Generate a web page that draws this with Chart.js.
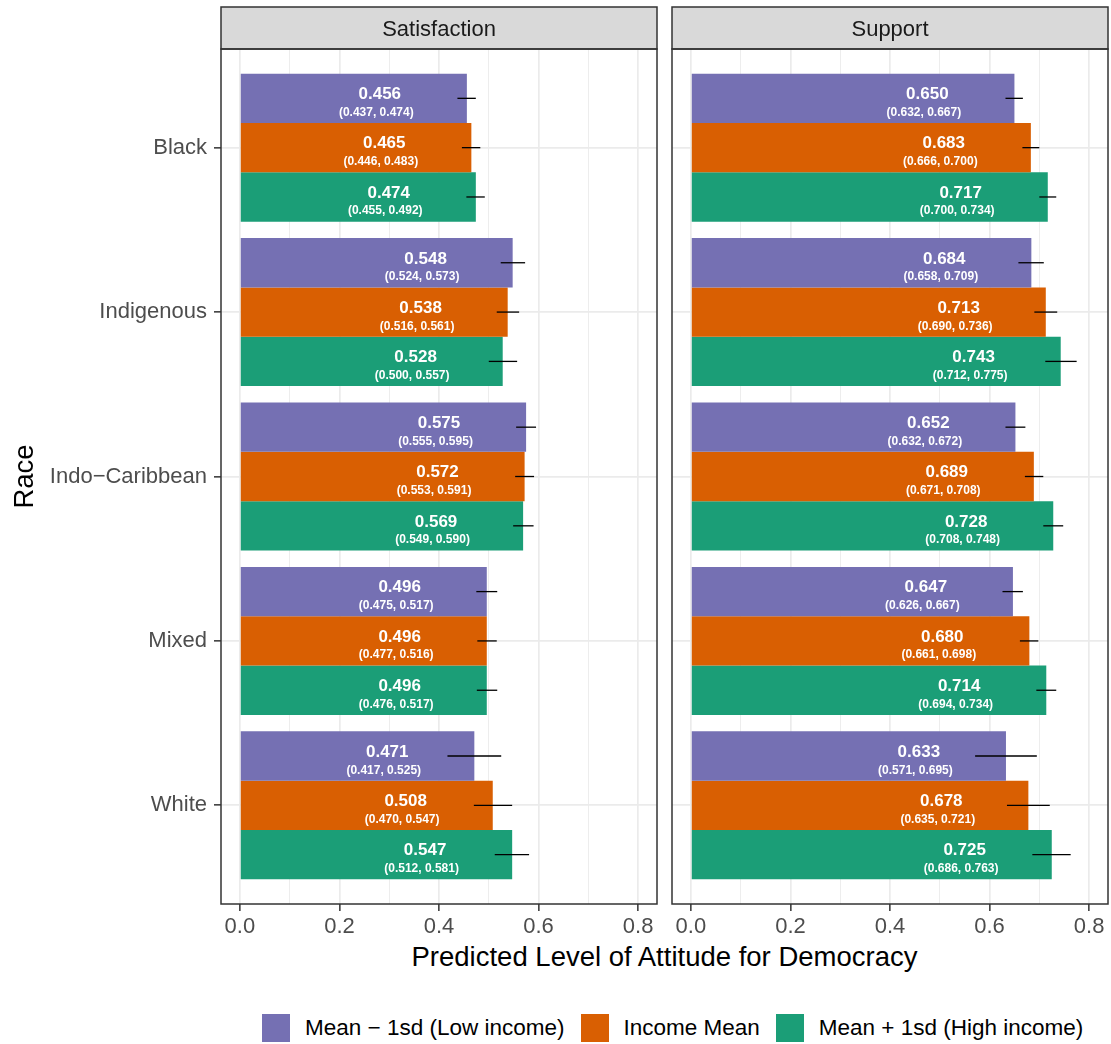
<!DOCTYPE html>
<html>
<head>
<meta charset="utf-8">
<title>Predicted Level of Attitude for Democracy</title>
<script src="https://cdn.jsdelivr.net/npm/chart.js@4.4.1/dist/chart.umd.min.js"></script>
<style>
  html, body { margin: 0; padding: 0; background: #ffffff; }
  #wrap { position: relative; width: 1111px; height: 1044px; overflow: hidden;
          font-family: "Liberation Sans", Arial, Helvetica, sans-serif; }
  #satCanvas { position: absolute; left: 0; top: 0; }
  #supCanvas { position: absolute; left: 664px; top: 0; }
  #xtitle { position: absolute; left: 221px; width: 887px; top: 943px; text-align: center;
            font-size: 27.5px; line-height: 1; color: #000000; white-space: nowrap; }
  #legend { position: absolute; left: 262px; top: 1014px; height: 28px; display: flex; align-items: center; }
  #legend .key { width: 28px; height: 28px; margin-right: 15px; flex: none; }
  #legend .lab { font-size: 22.5px; line-height: 1; color: #000000; margin-right: 16px; white-space: nowrap; }
</style>
</head>
<body>
<div id="wrap">
  <canvas id="satCanvas" width="664" height="940"></canvas>
  <canvas id="supCanvas" width="447" height="940"></canvas>
  <div id="xtitle">Predicted Level of Attitude for Democracy</div>
  <div id="legend"></div>
</div>
<script>
// ---- categories and groups ----
const races = ['Black', 'Indigenous', 'Indo\u2212Caribbean', 'Mixed', 'White'];
const incomeGroups = ['Mean \u2212 1sd (Low income)', 'Income Mean', 'Mean + 1sd (High income)'];
const groupColors = ['#7570B3', '#D95F02', '#1B9E77'];
const facetTitles = ['Satisfaction', 'Support'];

// ---- x axis ticks ----
const xMajorTicks = [0, 0.2, 0.4, 0.6, 0.8];
const xTickLabels = ['0.0', '0.2', '0.4', '0.6', '0.8'];
const xMinorTicks = [0.1, 0.3, 0.5, 0.7];

// ---- Satisfaction: predicted values and 95% intervals ----
const satLowEst  = [0.456, 0.548, 0.575, 0.496, 0.471];
const satLowLo   = [0.437, 0.524, 0.555, 0.475, 0.417];
const satLowHi   = [0.474, 0.573, 0.595, 0.517, 0.525];
const satMidEst  = [0.465, 0.538, 0.572, 0.496, 0.508];
const satMidLo   = [0.446, 0.516, 0.553, 0.477, 0.470];
const satMidHi   = [0.483, 0.561, 0.591, 0.516, 0.547];
const satHighEst = [0.474, 0.528, 0.569, 0.496, 0.547];
const satHighLo  = [0.455, 0.500, 0.549, 0.476, 0.512];
const satHighHi  = [0.492, 0.557, 0.590, 0.517, 0.581];

// ---- Support: predicted values and 95% intervals ----
const supLowEst  = [0.650, 0.684, 0.652, 0.647, 0.633];
const supLowLo   = [0.632, 0.658, 0.632, 0.626, 0.571];
const supLowHi   = [0.667, 0.709, 0.672, 0.667, 0.695];
const supMidEst  = [0.683, 0.713, 0.689, 0.680, 0.678];
const supMidLo   = [0.666, 0.690, 0.671, 0.661, 0.635];
const supMidHi   = [0.700, 0.736, 0.708, 0.698, 0.721];
const supHighEst = [0.717, 0.743, 0.728, 0.714, 0.725];
const supHighLo  = [0.700, 0.712, 0.708, 0.694, 0.686];
const supHighHi  = [0.734, 0.775, 0.748, 0.734, 0.763];

const FONT = '"Liberation Sans", Arial, Helvetica, sans-serif';
Chart.defaults.font.family = FONT;

const isMajor = v => xMajorTicks.some(m => Math.abs(m - v) < 1e-9);

function buildDatasets(ests, los, his) {
  return incomeGroups.map((name, g) => ({
    label: name,
    data: races.map((r, i) => ({ x: ests[g][i], y: i })),
    lo: los[g],
    hi: his[g],
    backgroundColor: groupColors[g],
    borderWidth: 0,
    categoryPercentage: 0.9,
    barPercentage: 1.0
  }));
}

// strip on top of the panel, panel border
const panelFrame = {
  id: 'panelFrame',
  afterDraw(chart, args, opts) {
    const { ctx, chartArea: a } = chart;
    const stripTop = 7;
    ctx.save();
    ctx.fillStyle = '#D9D9D9';
    ctx.fillRect(a.left, stripTop, a.right - a.left, a.top - stripTop);
    ctx.strokeStyle = '#333333';
    ctx.lineWidth = 1.5;
    ctx.strokeRect(a.left, stripTop, a.right - a.left, a.top - stripTop);
    ctx.strokeRect(a.left, a.top, a.right - a.left, a.bottom - a.top);
    ctx.fillStyle = '#1A1A1A';
    ctx.font = '22px ' + FONT;
    ctx.textAlign = 'center';
    ctx.textBaseline = 'alphabetic';
    ctx.fillText(opts.title, (a.left + a.right) / 2, 36);
    ctx.restore();
  }
};

// value labels and interval lines on each bar
const barAnnotations = {
  id: 'barAnnotations',
  afterDatasetsDraw(chart) {
    const { ctx } = chart;
    const xs = chart.scales.x;
    ctx.save();
    chart.data.datasets.forEach((ds, di) => {
      const meta = chart.getDatasetMeta(di);
      meta.data.forEach((bar, j) => {
        const est = ds.data[j].x, lo = ds.lo[j], hi = ds.hi[j];
        const yc = bar.y;
        ctx.fillStyle = '#FFFFFF';
        ctx.textAlign = 'center';
        ctx.textBaseline = 'alphabetic';
        ctx.font = 'bold 17px ' + FONT;
        ctx.fillText(est.toFixed(3), xs.getPixelForValue(est - 0.175), yc + 0.8);
        ctx.font = 'bold 12px ' + FONT;
        ctx.fillText('(' + lo.toFixed(3) + ', ' + hi.toFixed(3) + ')',
                     xs.getPixelForValue(est - 0.182), yc + 17.5);
        ctx.strokeStyle = '#000000';
        ctx.lineWidth = 1.3;
        ctx.beginPath();
        ctx.moveTo(xs.getPixelForValue(lo), yc);
        ctx.lineTo(xs.getPixelForValue(hi), yc);
        ctx.stroke();
      });
    });
    ctx.restore();
  }
};

function makePanel(canvasId, facet, datasets, showY, yWidth, pad) {
  return new Chart(document.getElementById(canvasId), {
    type: 'bar',
    data: { datasets },
    plugins: [barAnnotations, panelFrame],
    options: {
      indexAxis: 'y',
      responsive: false,
      animation: false,
      events: [],
      layout: { padding: pad },
      plugins: {
        legend: { display: false },
        tooltip: { enabled: false },
        panelFrame: { title: facet }
      },
      scales: {
        x: {
          type: 'linear',
          min: -0.038,
          max: 0.838,
          afterBuildTicks: s => { s.ticks = xMajorTicks.concat(xMinorTicks).sort((a, b) => a - b).map(v => ({ value: v })); },
          afterFit: s => { s.height = 36; },
          border: { display: false },
          grid: {
            color: '#EBEBEB',
            lineWidth: c => isMajor(c.tick.value) ? 1.7 : 0.9,
            drawTicks: true,
            tickLength: 7,
            tickWidth: 1.5,
            tickColor: c => isMajor(c.tick.value) ? '#333333' : 'rgba(0,0,0,0)'
          },
          ticks: {
            autoSkip: false,
            maxRotation: 0,
            padding: 3,
            color: '#4D4D4D',
            font: { size: 22 },
            callback: v => {
              const k = xMajorTicks.findIndex(m => Math.abs(m - v) < 1e-9);
              return k >= 0 ? xTickLabels[k] : '';
            }
          }
        },
        y: {
          type: 'linear',
          reverse: true,
          min: -0.6,
          max: races.length - 0.4,
          offset: false,
          afterBuildTicks: s => { s.ticks = races.map((r, i) => ({ value: i })); },
          afterFit: s => { s.width = yWidth; },
          border: { display: false },
          grid: {
            offset: false,
            color: '#EBEBEB',
            lineWidth: 1.7,
            drawTicks: showY,
            tickLength: 7,
            tickWidth: 1.5,
            tickColor: '#333333'
          },
          ticks: {
            display: showY,
            autoSkip: false,
            padding: 7,
            color: '#4D4D4D',
            font: { size: 22 },
            callback: v => races[Math.round(v)]
          },
          title: {
            display: showY,
            text: 'Race',
            color: '#000000',
            font: { size: 27.5 },
            padding: { top: 9, bottom: 0 }
          }
        }
      }
    }
  });
}

makePanel('satCanvas', facetTitles[0],
  buildDatasets([satLowEst, satMidEst, satHighEst], [satLowLo, satMidLo, satHighLo], [satLowHi, satMidHi, satHighHi]),
  true, 221, { left: 0, top: 49, right: 7, bottom: 0 });

makePanel('supCanvas', facetTitles[1],
  buildDatasets([supLowEst, supMidEst, supHighEst], [supLowLo, supMidLo, supHighLo], [supLowHi, supMidHi, supHighHi]),
  false, 8, { left: 0, top: 49, right: 3, bottom: 0 });

// legend
const legend = document.getElementById('legend');
incomeGroups.forEach((name, g) => {
  const key = document.createElement('div');
  key.className = 'key';
  key.style.background = groupColors[g];
  const lab = document.createElement('div');
  lab.className = 'lab';
  lab.textContent = name;
  legend.appendChild(key);
  legend.appendChild(lab);
});
</script>
</body>
</html>
